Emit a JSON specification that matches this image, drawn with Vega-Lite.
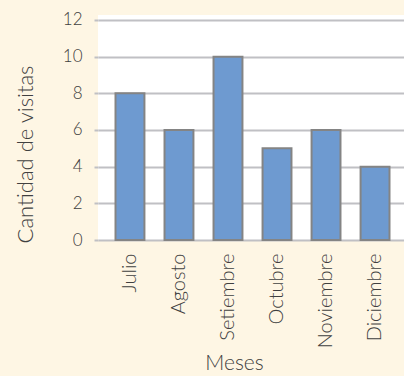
{
  "$schema": "https://vega.github.io/schema/vega-lite/v6.json",
  "autosize": {"type": "none"},
  "width": 306,
  "height": 225,
  "padding": {"left": 98, "top": 15, "right": 0, "bottom": 136},
  "background": "#FEF6E4",
  "view": {"fill": "#FFFFFF", "stroke": null},
  "config": {"font": "Lato"},
  "data": {
    "values": [
      {"mes": "Julio", "visitas": 8},
      {"mes": "Agosto", "visitas": 6},
      {"mes": "Setiembre", "visitas": 10},
      {"mes": "Octubre", "visitas": 5},
      {"mes": "Noviembre", "visitas": 6},
      {"mes": "Diciembre", "visitas": 4}
    ]
  },
  "mark": {"type": "bar", "fill": "#6E9AD0", "stroke": "#848484", "strokeWidth": 2},
  "encoding": {
    "x": {
      "field": "mes",
      "type": "nominal",
      "sort": null,
      "scale": {"paddingInner": 0.41, "paddingOuter": 0.3265, "align": 0.547},
      "axis": {
        "title": "Meses",
        "titleFontWeight": 300,
        "titleFontSize": 21,
        "titleColor": "#404040",
        "titleX": 136,
        "titleY": 123,
        "titleBaseline": "middle",
        "titleAlign": "center",
        "labelAngle": -90,
        "labelFontSize": 20,
        "labelFontWeight": 300,
        "labelColor": "#404040",
        "labelPadding": 13,
        "ticks": false,
        "domain": false,
        "grid": false
      }
    },
    "y": {
      "field": "visitas",
      "type": "quantitative",
      "scale": {"domain": [0, 12.27], "nice": false, "zero": true},
      "axis": {
        "title": "Cantidad de visitas",
        "titleFontWeight": 300,
        "titleFontSize": 22,
        "titleColor": "#404040",
        "titleAngle": 270,
        "titleX": -73,
        "titleY": 139,
        "titleBaseline": "middle",
        "titleAlign": "center",
        "values": [0, 2, 4, 6, 8, 10, 12],
        "labelFontSize": 17,
        "labelFontWeight": 300,
        "labelColor": "#404040",
        "labelPadding": 12,
        "tickSize": 4,
        "tickColor": "#C0C0C4",
        "tickWidth": 2,
        "grid": true,
        "gridColor": "#C0C0C4",
        "gridWidth": 2,
        "domain": false
      }
    }
  }
}
